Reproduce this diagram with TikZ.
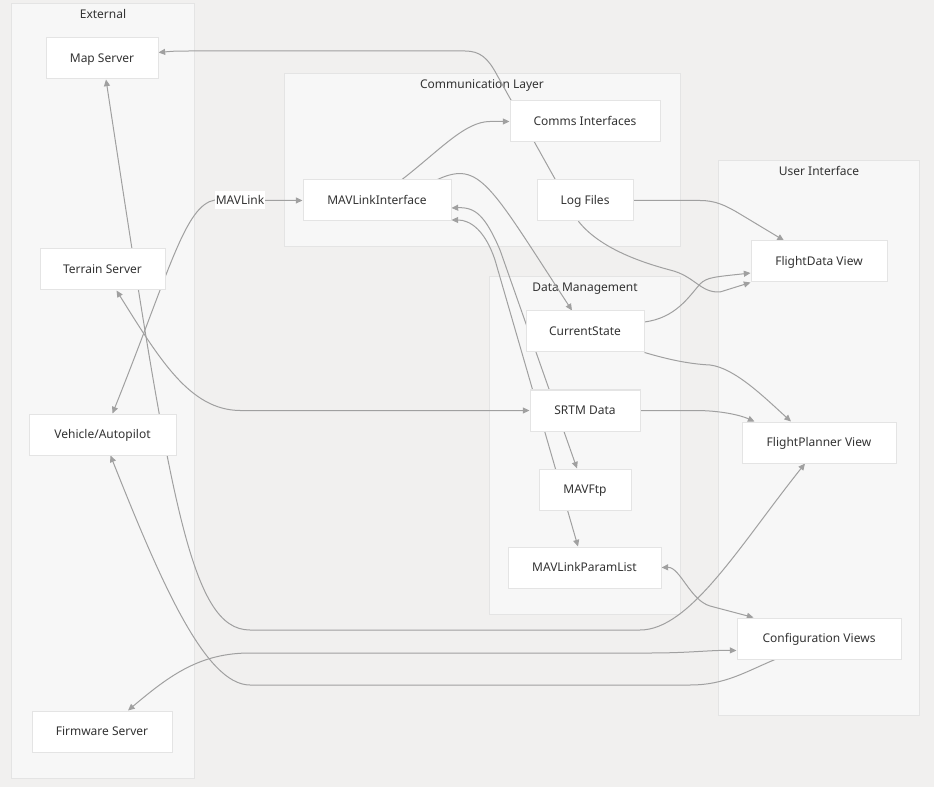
\documentclass[tikz,border=0pt]{standalone}
\usepackage{fontspec}
\setmainfont{Noto Sans}
\usetikzlibrary{arrows.meta,calc}
\pgfdeclarelayer{bg}
\pgfdeclarelayer{edges}
\pgfsetlayers{bg,edges,main}
\definecolor{bgc}{RGB}{241,240,239}
\definecolor{clf}{RGB}{247,247,247}
\definecolor{clb}{RGB}{228,228,228}
\definecolor{nodeb}{RGB}{228,228,228}
\definecolor{edgec}{RGB}{160,160,160}
\definecolor{txt}{RGB}{51,51,51}
\begin{document}
\begin{tikzpicture}[x=0.75pt,y=-0.75pt,
  box/.style={draw=nodeb, fill=white, line width=0.75pt, minimum height=30.75pt, inner sep=0pt, text height=6.5pt, text depth=0pt, font=\fontsize{9}{11}\selectfont, text=txt},
  cluster/.style={draw=clb, fill=clf, line width=0.75pt},
  ctitle/.style={inner sep=0pt, text height=6.5pt, text depth=0pt, font=\fontsize{9}{11}\selectfont, text=txt},
  conn/.style={draw=edgec, line width=0.75pt},
  lbl/.style={fill=white, inner xsep=0.6pt, inner ysep=3.5pt, text height=6.5pt, text depth=0pt, font=\fontsize{9}{11}\selectfont, text=txt},
  >={Triangle[length=5pt,width=4.5pt]}]
\begin{pgfonlayer}{bg}
\fill[bgc] (0,0) rectangle (934,787);
\useasboundingbox (0,0) rectangle (934,787);
\draw[cluster] (11,4) rectangle (194,778);
\node[ctitle] (tE) at (103,14) {External};
\draw[cluster] (284,74) rectangle (680,247);
\node[ctitle] (tC) at (482,84) {Communication Layer};
\draw[cluster] (489,277) rectangle (680,614);
\node[ctitle] (tD) at (585,287) {Data Management};
\draw[cluster] (718,161) rectangle (919,715);
\node[ctitle] (tU) at (819,171) {User Interface};
\end{pgfonlayer}

\node[box, minimum width=84pt] (ms) at (102,58.5) {Map Server};
\node[box, minimum width=93.75pt] (ts) at (102.5,269.5) {Terrain Server};
\node[box, minimum width=110.25pt] (va) at (102.5,434.5) {Vehicle/Autopilot};
\node[box, minimum width=105pt] (fs) at (102,731.5) {Firmware Server};
\node[box, minimum width=112.5pt] (ci) at (585,121.5) {Comms Interfaces};
\node[box, minimum width=111pt] (mli) at (377,200.5) {MAVLinkInterface};
\node[box, minimum width=72pt] (lf) at (585,200.5) {Log Files};
\node[box, minimum width=88.5pt] (cs) at (585,331.5) {CurrentState};
\node[box, minimum width=82.5pt] (sr) at (585,410.5) {SRTM Data};
\node[box, minimum width=69pt] (mf) at (585,489.5) {MAVFtp};
\node[box, minimum width=114.75pt] (mp) at (584.5,567.5) {MAVLinkParamList};
\node[box, minimum width=102pt] (fd) at (819,261.5) {FlightData View};
\node[box, minimum width=115.5pt] (fp) at (819,442.5) {FlightPlanner View};
\node[box, minimum width=123pt] (cv) at (819,638.5) {Configuration Views};
\node[lbl] (lm) at (240,200) {MAVLink};

\begin{pgfonlayer}{edges}
% Vehicle <-> MAVLinkInterface
\draw[conn,<->] ($(va.north)+(10,0)$) .. controls (170,270) and (185,205) .. (215,200) -- (mli.west);
% Map Server <-> FlightPlanner View
\draw[conn,<->] ($(ms.south)+(4,0)$) .. controls (170,500) and (190,630) .. (250,630) -- (640,630) .. controls (690,630) and (740,545) .. ($(fp.south)+(-14,0)$);
% Terrain Server <-> SRTM Data
\draw[conn,<->] ($(ts.south)+(14,0)$) .. controls (160,360) and (190,410) .. (240,410.5) -- (sr.west);
% Configuration Views -> Vehicle
\draw[conn,->] ($(cv.south)+(-44,0)$) .. controls (745,672) and (725,685) .. (690,685) -- (250,685) .. controls (205,685) and (160,580) .. ($(va.south)+(8,0)$);
% Firmware Server <-> Configuration Views
\draw[conn,<->] ($(fs.north)+(26,0)$) .. controls (170,675) and (200,653) .. (250,653) -- (650,653) .. controls (690,653) and (710,650) .. ($(cv.west)+(0,12)$);
% Map Server <-> FlightData View
\draw[conn,<->] ($(ms.east)+(0,-6)$) .. controls (175,51) .. (200,51) -- (465,51) .. controls (480,51) and (488,58) .. (497,75) -- (579,222) .. controls (600,248) and (640,262) .. (670,270) .. controls (695,276) and (700,293) .. (720,292) -- (fd.south west);
% MAVLinkInterface -> Comms Interfaces
\draw[conn,->] ($(mli.north)+(25,0)$) .. controls (440,150) and (465,121.5) .. (490,121.5) -- (ci.west);
% MAVLinkInterface -> CurrentState
\draw[conn,->] ($(mli.north east)+(-14,0)$) .. controls (480,160) and (490,185) .. ($(cs.north)+(-13,0)$);
% MAVLinkInterface <-> MAVFtp
\draw[conn,<->] ($(mli.east)+(0,7.5)$) .. controls (475,207) and (485,215) .. (500,250) -- ($(mf.north)+(-8,0)$);
% MAVLinkInterface <-> MAVLinkParamList
\draw[conn,<->] ($(mli.east)+(0,19.5)$) .. controls (470,220) and (485,230) .. (495,260) -- ($(mp.north)+(-6.5,0)$);
% Log Files -> FlightData View
\draw[conn,->] (lf.east) -- (700,200.5) .. controls (715,200.5) and (725,205) .. (740,214) -- ($(fd.north)+(-35,0)$);
% CurrentState -> FlightData View
\draw[conn,->] ($(cs.east)+(0,-9.5)$) .. controls (675,318) and (688,298) .. (700,284) .. controls (707,277) and (715,277) .. ($(fd.west)+(0,11.5)$);
% CurrentState -> FlightPlanner View
\draw[conn,->] (cs.south east) .. controls (670,360) and (690,364) .. (710,365) .. controls (735,368) and (765,398) .. ($(fp.north)+(-28,0)$);
% SRTM Data -> FlightPlanner View
\draw[conn,->] (sr.east) -- (695,410.5) .. controls (720,410.5) and (740,415) .. ($(fp.north west)+(13,0)$);
% MAVLinkParamList <-> Configuration Views
\draw[conn,<->] (mp.east) .. controls (680,567) and (690,600) .. (710,606) -- ($(cv.north west)+(17,0)$);
\end{pgfonlayer}
\end{tikzpicture}
\end{document}
